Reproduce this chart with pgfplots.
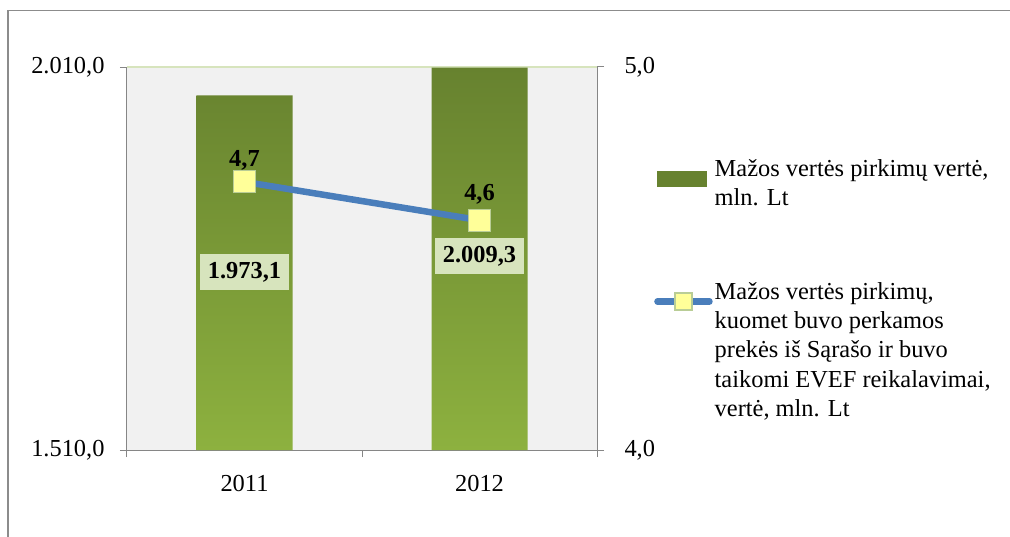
\documentclass[border=0pt]{standalone}
\usepackage{fontspec}
\setmainfont{Liberation Serif}
\usepackage{pgfplots}
\pgfplotsset{compat=1.18}
\definecolor{bggray}{HTML}{F1F1F1}
\definecolor{axisgray}{HTML}{868686}
\definecolor{framegray}{HTML}{8C8C8C}
\definecolor{topgreen}{HTML}{D7E4BD}
\definecolor{bardark}{HTML}{67822F}
\definecolor{barlight}{HTML}{8DB13F}
\definecolor{lblgreen}{HTML}{D7E4BD}
\definecolor{lineblue}{HTML}{4A7EBB}
\definecolor{mkfill}{HTML}{FFFF99}
\definecolor{mkdraw}{HTML}{B9CD96}
\newcommand{\bigfont}{\fontsize{24.5}{29.3}\selectfont}
\pgfplotsset{
  linelegend/.style={legend image code/.code={%
    \draw[##1, line cap=round, mark size=8.5bp, mark repeat=2, mark phase=2]
      plot coordinates {(0bp,-21bp) (26bp,-21bp) (52bp,-21bp)};}},
  barlegend/.style={legend image code/.code={%
    \fill[bardark] (0bp,-28.5bp) rectangle (49bp,-13.5bp);}},
}
\begin{document}
\begin{tikzpicture}
\useasboundingbox (-127bp,-87bp) rectangle (883bp,450bp);
\draw[framegray, line width=1.5bp] (-119bp,-150bp) -- (-119bp,439.5bp) -- (950bp,439.5bp);
\begin{axis}[
  at={(0,0)}, anchor=south west,
  scale only axis, width=470bp, height=383bp,
  xmin=0.5, xmax=2.5, ymin=1510, ymax=2010,
  axis x line*=bottom, axis y line*=left,
  xtick={0.5,1.5,2.5}, x tick label as interval, xticklabels={2011,2012},
  ytick={1510,2010}, yticklabels={{1.510,0},{2.010,0}},
  tick align=outside, major tick length=7bp,
  axis line style={draw=axisgray, line width=1bp},
  tick style={draw=axisgray, line width=1bp},
  ticklabel style={font=\bigfont},
  xticklabel style={yshift=-15bp},
  yticklabel style={xshift=-12bp},
  /pgf/number format/assume math mode=true,
  axis background/.style={fill=bggray},
  clip=false,
]
\draw[topgreen, line width=1.5bp] (rel axis cs:0,1) -- (rel axis cs:1,1);
\addplot[ybar, bar width=96bp, draw=none, top color=bardark, middle color=bardark!85!barlight, bottom color=barlight]
  coordinates {(1,1973.1) (2,2009.3)};
\node[fill=lblgreen, font=\bigfont\bfseries, minimum height=36bp, inner xsep=8bp] at (axis cs:1,1742) {1.973,1};
\node[fill=lblgreen, font=\bigfont\bfseries, minimum height=36bp, inner xsep=8bp] at (axis cs:2,1763) {2.009,3};
\end{axis}
\begin{axis}[
  at={(0,0)}, anchor=south west,
  scale only axis, width=470bp, height=383bp,
  xmin=0.5, xmax=2.5, ymin=4, ymax=5,
  axis x line=none, axis y line*=right,
  ytick={4,5}, yticklabels={{4,0},{5,0}},
  tick align=outside, major tick length=7bp,
  axis line style={draw=axisgray, line width=1bp},
  tick style={draw=axisgray, line width=1bp},
  ticklabel style={font=\bigfont},
  yticklabel style={xshift=17bp},
  /pgf/number format/assume math mode=true,
  clip=false,
  legend style={at={(axis description cs:1.1213,0.764)}, anchor=north west,
    draw=none, fill=none, inner sep=0pt, row sep=71bp, column sep=0pt,
    font=\bigfont, cells={anchor=north west, align=left, inner xsep=1bp}},
]
\addlegendimage{barlegend}
\addlegendentry{Mažos vertės pirkimų vertė,\\mln. Lt}
\addplot[lineblue, line width=6.5bp, mark=square*, mark size=11bp,
  mark options={fill=mkfill, draw=mkdraw, line width=1.2bp}, linelegend]
  coordinates {(1,4.7) (2,4.6)};
\addlegendentry{Mažos vertės pirkimų,\\kuomet buvo perkamos\\prekės iš Sąrašo ir buvo\\taikomi EVEF reikalavimai,\\vertė, mln. Lt}
\node[font=\bigfont\bfseries] at ([yshift=22bp]axis cs:1,4.7) {4,7};
\node[font=\bigfont\bfseries] at ([yshift=26bp]axis cs:2,4.6) {4,6};
\end{axis}
\end{tikzpicture}
\end{document}
